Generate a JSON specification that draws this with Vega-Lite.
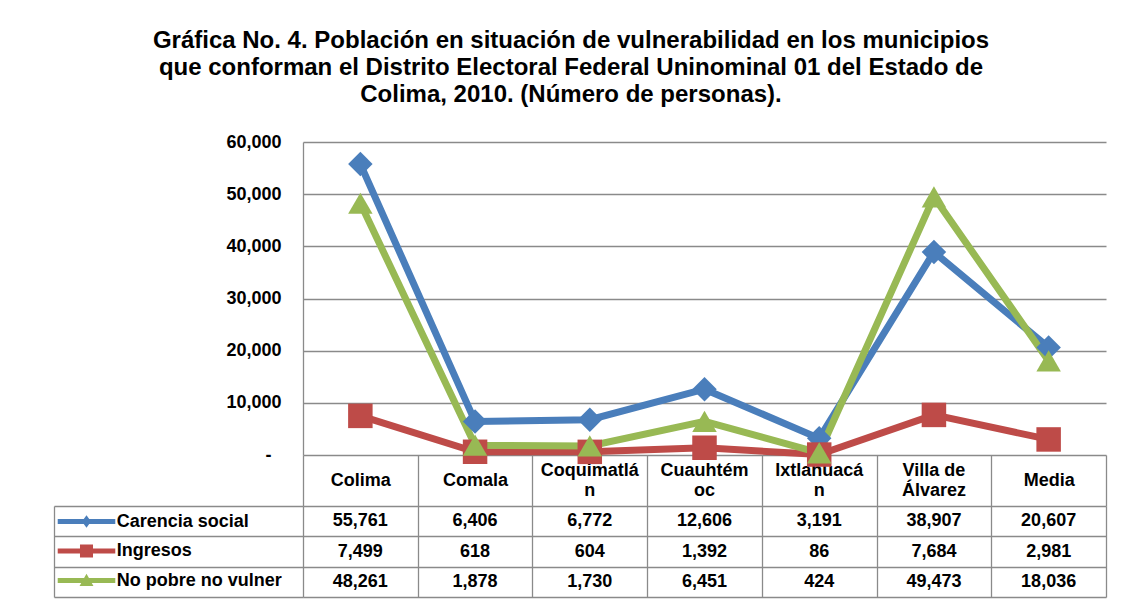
{
  "$schema": "https://vega.github.io/schema/vega-lite/v6.json",
  "background": "white",
  "padding": {"left": 53, "top": 29, "right": 5, "bottom": 5},
  "config": {"view": {"stroke": null}, "font": "Liberation Sans"},
  "title": {
    "text": ["Gráfica No. 4. Población en situación de vulnerabilidad en los municipios", "que conforman el Distrito Electoral Federal Uninominal 01 del Estado de", "Colima, 2010. (Número de personas)."],
    "font": "Liberation Sans", "fontSize": 24, "fontWeight": "bold", "lineHeight": 27, "color": "black", "anchor": "middle", "offset": 26, "dx": -9
  },
  "datasets": {
    "d": [
      {"municipio": "Colima", "serie": "Carencia social", "personas": 55761},
      {"municipio": "Comala", "serie": "Carencia social", "personas": 6406},
      {"municipio": "Coquimatlán", "serie": "Carencia social", "personas": 6772},
      {"municipio": "Cuauhtémoc", "serie": "Carencia social", "personas": 12606},
      {"municipio": "Ixtlahuacán", "serie": "Carencia social", "personas": 3191},
      {"municipio": "Villa de Álvarez", "serie": "Carencia social", "personas": 38907},
      {"municipio": "Media", "serie": "Carencia social", "personas": 20607},
      {"municipio": "Colima", "serie": "Ingresos", "personas": 7499},
      {"municipio": "Comala", "serie": "Ingresos", "personas": 618},
      {"municipio": "Coquimatlán", "serie": "Ingresos", "personas": 604},
      {"municipio": "Cuauhtémoc", "serie": "Ingresos", "personas": 1392},
      {"municipio": "Ixtlahuacán", "serie": "Ingresos", "personas": 86},
      {"municipio": "Villa de Álvarez", "serie": "Ingresos", "personas": 7684},
      {"municipio": "Media", "serie": "Ingresos", "personas": 2981},
      {"municipio": "Colima", "serie": "No pobre  no vulner", "personas": 48261},
      {"municipio": "Comala", "serie": "No pobre  no vulner", "personas": 1878},
      {"municipio": "Coquimatlán", "serie": "No pobre  no vulner", "personas": 1730},
      {"municipio": "Cuauhtémoc", "serie": "No pobre  no vulner", "personas": 6451},
      {"municipio": "Ixtlahuacán", "serie": "No pobre  no vulner", "personas": 424},
      {"municipio": "Villa de Álvarez", "serie": "No pobre  no vulner", "personas": 49473},
      {"municipio": "Media", "serie": "No pobre  no vulner", "personas": 18036}
    ]
  },
  "bounds": "flush",
  "spacing": 51,
  "resolve": {"scale": {"color": "independent", "shape": "independent"}, "legend": {"color": "independent", "shape": "independent"}},
  "vconcat": [
    {
      "width": 803,
      "height": 313,
      "data": {"name": "d"},
      "encoding": {
        "color": {
          "field": "serie", "type": "nominal",
          "scale": {"domain": ["Carencia social", "Ingresos", "No pobre  no vulner"], "range": ["#4a7ebb", "#be4b48", "#98b954"]},
          "legend": null
        }
      },
      "layer": [
        {
          "mark": {"type": "line", "strokeWidth": 7},
          "encoding": {
            "x": {
              "field": "municipio", "type": "nominal",
              "sort": ["Colima", "Comala", "Coquimatlán", "Cuauhtémoc", "Ixtlahuacán", "Villa de Álvarez", "Media"],
              "scale": {"paddingInner": 0, "paddingOuter": 0},
              "axis": {
                "orient": "bottom", "title": null, "grid": false,
                "tickBand": "extent", "tickSize": 51, "tickColor": "#8a8a8a", "tickWidth": 1.3,
                "domainColor": "#8a8a8a", "domainWidth": 1.3,
                "labelFont": "Liberation Sans", "labelFontSize": 18, "labelFontWeight": "bold", "labelColor": "black",
                "labelAngle": 0, "labelPadding": -25.5, "labelBaseline": "middle", "labelLimit": 0,
                "labelExpr": "indexof(['Coquimatlán', 'Cuauhtémoc', 'Ixtlahuacán', 'Villa de Álvarez'], datum.label) >= 0 ? '' : datum.label"
              }
            },
            "y": {
              "field": "personas", "type": "quantitative",
              "scale": {"domain": [0, 60000], "nice": false},
              "axis": {
                "orient": "left", "title": null, "values": [10000, 20000, 30000, 40000, 50000, 60000],
                "grid": true, "gridColor": "#8a8a8a", "gridWidth": 1.3,
                "ticks": false, "domain": true, "domainColor": "#8a8a8a", "domainWidth": 1.3,
                "labelFont": "Liberation Sans", "labelFontSize": 18, "labelFontWeight": "bold", "labelColor": "black",
                "labelPadding": 22,
                "labelExpr": "format(datum.value, ',')"
              }
            }
          }
        },
        {
          "mark": {"type": "point", "filled": true, "size": 600, "opacity": 1},
          "encoding": {
            "x": {
              "field": "municipio", "type": "nominal",
              "sort": ["Colima", "Comala", "Coquimatlán", "Cuauhtémoc", "Ixtlahuacán", "Villa de Álvarez", "Media"],
              "scale": {"paddingInner": 0, "paddingOuter": 0},
              "axis": {
                "orient": "bottom", "title": null, "grid": false, "ticks": false, "domain": false,
                "labelFont": "Liberation Sans", "labelFontSize": 18, "labelFontWeight": "bold", "labelColor": "black",
                "labelAngle": 0, "labelPadding": 15, "labelBaseline": "middle", "labelLineHeight": 20, "labelLimit": 0,
                "labelExpr": "datum.label == 'Coquimatlán' ? ['Coquimatlá', 'n'] : datum.label == 'Cuauhtémoc' ? ['Cuauhtém', 'oc'] : datum.label == 'Ixtlahuacán' ? ['Ixtlahuacá', 'n'] : datum.label == 'Villa de Álvarez' ? ['Villa de', 'Álvarez'] : ''"
              }
            },
            "y": {
              "field": "personas", "type": "quantitative",
              "axis": {
                "orient": "left", "title": null, "values": [0], "grid": false, "ticks": false, "domain": false,
                "labelFont": "Liberation Sans", "labelFontSize": 18, "labelFontWeight": "bold", "labelColor": "black",
                "labelPadding": 32, "labelExpr": "'-'"
              }
            },
            "shape": {
              "field": "serie", "type": "nominal",
              "scale": {"domain": ["Carencia social", "Ingresos", "No pobre  no vulner"], "range": ["diamond", "square", "triangle-up"]},
              "legend": null
            }
          }
        }
      ],
      "resolve": {"axis": {"x": "independent", "y": "independent"}}
    },
    {
      "width": 803,
      "height": 91,
      "data": {"name": "d"},
      "encoding": {
        "x": {
          "field": "municipio", "type": "nominal",
          "sort": ["Colima", "Comala", "Coquimatlán", "Cuauhtémoc", "Ixtlahuacán", "Villa de Álvarez", "Media"],
          "scale": {"paddingInner": 0, "paddingOuter": 0},
          "axis": {
            "orient": "top", "title": null, "labels": false, "ticks": false, "domain": false,
            "grid": true, "tickBand": "extent", "gridColor": "#8a8a8a", "gridWidth": 1.3
          }
        }
      },
      "layer": [
        {
          "mark": {"type": "text", "font": "Liberation Sans", "fontSize": 18, "fontWeight": "bold", "color": "black"},
          "encoding": {
            "y": {
              "field": "serie", "type": "nominal",
              "sort": ["Carencia social", "Ingresos", "No pobre  no vulner"],
              "scale": {"paddingInner": 0, "paddingOuter": 0},
              "axis": {
                "orient": "left", "title": null, "labels": false, "domain": false,
                "ticks": true, "tickSize": 249, "tickBand": "extent", "tickColor": "#8a8a8a", "tickWidth": 1.3,
                "grid": true, "gridColor": "#8a8a8a", "gridWidth": 1.3
              }
            },
            "text": {"field": "personas", "type": "quantitative", "format": ","}
          }
        },
        {
          "mark": {"type": "point", "filled": true, "size": 0, "opacity": 1},
          "encoding": {
            "y": {
              "field": "serie", "type": "nominal",
              "sort": ["Carencia social", "Ingresos", "No pobre  no vulner"],
              "scale": {"paddingInner": 0, "paddingOuter": 0},
              "axis": {
                "orient": "left", "offset": 249, "title": null, "labels": false, "ticks": false, "grid": false,
                "domain": true, "domainColor": "#8a8a8a", "domainWidth": 1.3
              }
            },
            "color": {
              "field": "serie", "type": "nominal",
              "scale": {"domain": ["Carencia social", "Ingresos", "No pobre  no vulner"], "range": ["#4a7ebb", "#be4b48", "#98b954"]},
              "legend": {
                "orient": "none", "legendX": -249, "legendY": 0, "title": null,
                "padding": 0, "rowPadding": 4.5, "symbolSize": 918, "symbolOffset": 17, "labelOffset": 14.7,
                "symbolOpacity": 1, "symbolStrokeWidth": 0,
                "labelFont": "Liberation Sans", "labelFontSize": 18, "labelFontWeight": "bold", "labelColor": "black", "labelLimit": 300,
                "labelExpr": "datum.label == 'Carencia social' ? '\u2004Carencia social' : datum.label"
              }
            },
            "shape": {
              "field": "serie", "type": "nominal",
              "scale": {
                "domain": ["Carencia social", "Ingresos", "No pobre  no vulner"],
                "range": [
                  "M-1.9,-0.16H1.9V0.16H-1.9Z M0,-0.42L0.3,0L0,0.42L-0.3,0Z",
                  "M-1.9,-0.16H1.9V0.16H-1.9Z M-0.43,-0.43H0.43V0.43H-0.43Z",
                  "M-1.9,-0.16H1.9V0.16H-1.9Z M0,-0.45L0.46,0.36H-0.46Z"
                ]
              }
            }
          }
        }
      ],
      "resolve": {"axis": {"y": "independent"}}
    }
  ]
}
